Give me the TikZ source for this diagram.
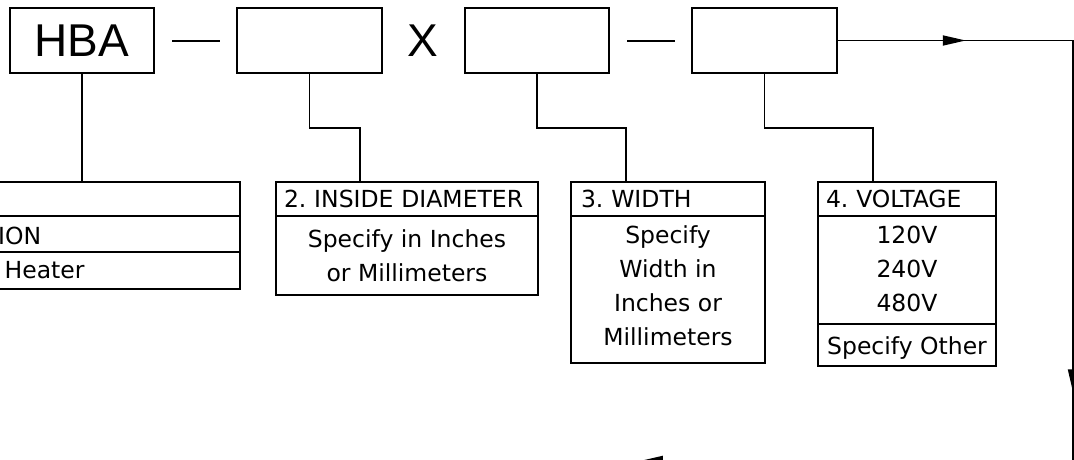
\documentclass[tikz,border=0pt]{standalone}
\usepackage{fontspec}
\setmainfont{DejaVu Sans}
\newfontfamily\codefont{Liberation Sans}
\usetikzlibrary{arrows.meta,calc,decorations.markings}
\frenchspacing

\tikzset{
  line/.style={line width=1.8pt, black},
  codebox/.style={draw, line width=1.8pt, rectangle, inner sep=0pt, outer sep=0pt,
    minimum width=144.5pt, minimum height=65pt, font=\codefont\fontsize{46}{50}\selectfont},
  sym/.style={inner sep=0pt, font=\codefont\fontsize{46}{50}\selectfont},
  rowbox/.style={draw, line width=1.8pt, rectangle, anchor=north west, inner sep=0pt,
    outer sep=0pt, align=center, font=\fontsize{23.5}{34}\selectfont},
  headbox/.style={rowbox, inner xsep=8pt, inner ysep=0pt, minimum height=34pt, align=left},
  plain/.style={anchor=base west, inner sep=0pt, font=\fontsize{23.5}{34}\selectfont},
  flowtip/.tip={Triangle[length=23pt,width=10pt]},
  feed/.style={line, postaction={decorate}, decoration={markings,
    mark=at position 129pt with {\arrow{flowtip}},
    mark=at position 588pt with {\arrow{flowtip}},
    mark=at position 1090pt with {\arrow{flowtip}}}}
}

\begin{document}
\begin{tikzpicture}[x=1pt,y=1pt]
\useasboundingbox (0,0) rectangle (1074,-459);
\clip (0,0) rectangle (1074,-459);

% model code boxes
\node[codebox] (t1) at (82,-40.5) {HBA};
\node[codebox] (t2) at (309.5,-40.5) {};
\node[codebox] (t3) at (537,-40.5) {};
\node[codebox] (t4) at (764.5,-40.5) {};
\node[sym] (times) at ($(t2.east)!0.5!(t3.west)$) {X};
\draw[line, line width=2pt, shorten <=18pt, shorten >=17pt] (t1) -- (t2);
\draw[line, line width=2pt, shorten <=18pt, shorten >=17pt] (t3) -- (t4);

% 1. construction table (runs off the left edge)
\node[rowbox, minimum width=390pt, minimum height=34pt] (d1h) at (-150,-182) {};
\node[rowbox, minimum width=390pt, minimum height=36pt] (d1a) at (d1h.south west) {};
\node[rowbox, minimum width=390pt, minimum height=37pt] (d1b) at (d1a.south west) {};
\node[plain] (d1at) at (-2,-244) {ION};
\node[plain] (d1bt) at (4.5,-278) {Heater};

% 2. inside diameter
\node[headbox, text width=246pt] (d2h) at (276,-182) {2. INSIDE DIAMETER};
\node[rowbox, minimum width=262pt, minimum height=79pt] (d2b) at (d2h.south west)
  {Specify in Inches\\or Millimeters};

% 3. width
\node[headbox, inner xsep=10pt, text width=174pt] (d3h) at (571,-182) {3. WIDTH};
\node[rowbox, minimum width=194pt, minimum height=147pt] (d3b) at (d3h.south west)
  {Specify\\Width in\\Inches or\\Millimeters\rule[-7pt]{0pt}{7pt}};

% 4. voltage
\node[headbox, text width=162pt] (d4h) at (818,-182) {4. VOLTAGE};
\node[rowbox, minimum width=178pt, minimum height=108pt] (d4b) at (d4h.south west)
  {120V\\240V\\480V\rule[-3pt]{0pt}{3pt}};
\node[rowbox, minimum width=178pt, minimum height=42pt] (d4c) at (d4b.south west)
  {\rule{0pt}{24pt}Specify Other};

% leaders from the code boxes to their tables
\draw[line] (t1.south) -- (t1.south |- d1h.north);
\draw[line] (t2.south) -- ++(0,-55) -| ([xshift=84pt]d2h.north west);
\draw[line] (t3.south) -- ++(0,-55) -| ([xshift=55pt]d3h.north west);
\draw[line] (t4.south) -- ++(0,-55) -| ([xshift=55pt]d4h.north west);

% return line
\coordinate (c2) at (1073,-461);
\coordinate (c3) at (400,-461);
\draw[feed] (t4.east) -| (c2) -- (c3);
\end{tikzpicture}
\end{document}
